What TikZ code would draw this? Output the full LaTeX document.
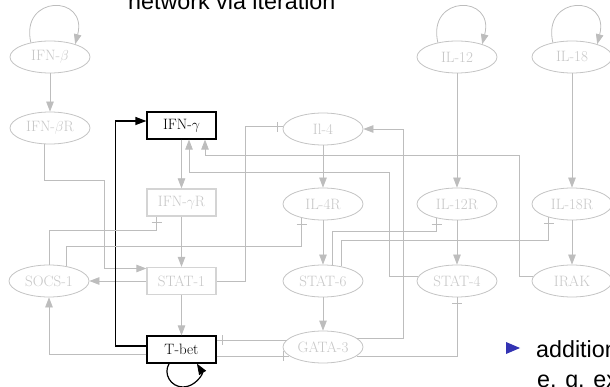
\documentclass[tikz,border=0pt]{standalone}
\usepackage{fontspec}
\newfontfamily\slidefont{Liberation Sans}
\usetikzlibrary{arrows.meta,shapes.geometric}

% inhibition tip: a bar set back from the end, with the line running through to the node
\pgfdeclarearrow{
  name = Tee,
  parameters = {\the\pgfarrowlength,\the\pgfarrowwidth},
  setup code = {
    \pgfarrowssettipend{0pt}
    \pgfarrowssetlineend{0pt}
    \pgfarrowssetbackend{-\pgfarrowlength}
    \pgfarrowssetvisualbackend{-\pgfarrowlength}
    \pgfarrowshullpoint{0pt}{.5\pgfarrowwidth}
    \pgfarrowshullpoint{0pt}{-.5\pgfarrowwidth}
    \pgfarrowshullpoint{-\pgfarrowlength}{.5\pgfarrowwidth}
    \pgfarrowshullpoint{-\pgfarrowlength}{-.5\pgfarrowwidth}
    \pgfarrowssavethe\pgfarrowlength
    \pgfarrowssavethe\pgfarrowwidth
  },
  drawing code = {
    \pgfsetdash{}{0pt}
    \pgfsetbuttcap
    \pgfpathmoveto{\pgfqpoint{-\pgfarrowlength}{.5\pgfarrowwidth}}
    \pgfpathlineto{\pgfqpoint{-\pgfarrowlength}{-.5\pgfarrowwidth}}
    \pgfusepathqstroke
  },
  defaults = {length=6pt, width=10pt}
}

\definecolor{edgegray}{gray}{0.74}
\definecolor{labelgray}{gray}{0.78}
\definecolor{rimgray}{gray}{0.77}
\definecolor{boxgray}{gray}{0.83}
\definecolor{bulletblue}{RGB}{51,51,179}

\tikzset{
  nodefont/.style={font=\fontsize{15}{18}\selectfont},
  el/.style={nodefont, ellipse, draw=rimgray, line width=0.8pt, fill=white,
    minimum width=80pt, minimum height=32pt, inner sep=0pt, text=labelgray},
  gbox/.style={nodefont, rectangle, draw=boxgray, line width=1.3pt, fill=white,
    minimum width=69pt, minimum height=27pt, inner sep=0pt, text=labelgray},
  kbox/.style={nodefont, rectangle, draw=black, line width=1.2pt, fill=white,
    minimum width=69pt, minimum height=27pt, inner sep=0pt, text=black},
  act/.style={draw=edgegray, line width=0.8pt, -{Triangle[length=10pt,width=7.5pt]}},
  inh/.style={draw=edgegray, line width=0.8pt, -{Tee[length=6pt,width=10pt]}},
  kact/.style={draw=black, line width=1.2pt, -{Triangle[length=11pt,width=8pt]}},
  slide/.style={font=\slidefont\fontsize{23.3}{28}\selectfont, anchor=base west, inner sep=0pt},
}

\begin{document}
\begin{tikzpicture}[x=1pt, y=-1pt]
\useasboundingbox (0,0) rectangle (610,387);
\clip (0,0) rectangle (610,387);

% slide text around the network
\node[slide] (ttl) at (128,9.5) {network via iteration};
\fill[bulletblue] (506,342) -- (506,354) -- (520,348) -- cycle;
\node[slide] (add) at (536,357) {addition};
\node[slide] (eg) at (537,387) {e. g. ex};

% nodes
\node[el]   (ifnb)  at (50,57)      {IFN-$\beta$};
\node[el]   (il12)  at (457,57)     {IL-12};
\node[el]   (il18)  at (572,57)     {IL-18};

\node[el]   (ifnbr) at (50,128)     {IFN-$\beta$R};
\node[kbox] (ifng)  at (181.5,125.5) {IFN-$\gamma$};
\node[el]   (il4)   at (323,129)    {Il-4};

\node[gbox] (ifngr) at (181.5,202.5) {IFN-$\gamma$R};
\node[el]   (il4r)  at (323,204)    {IL-4R};
\node[el]   (il12r) at (457,204)    {IL-12R};
\node[el]   (il18r) at (572,204)    {IL-18R};

\node[el]   (socs)  at (49,281)     {SOCS-1};
\node[gbox] (stat1) at (181.5,281)  {STAT-1};
\node[el]   (stat6) at (323,281)    {STAT-6};
\node[el]   (stat4) at (457,281)    {STAT-4};
\node[el]   (irak)  at (572,281)    {IRAK};

\node[kbox] (tbet)  at (181.5,349.5) {T-bet};
\node[el]   (gata)  at (323,347)    {GATA-3};

% straight activations
\draw[act] (ifnb) -- (ifnbr);
\draw[act] (ifng) -- (ifngr);
\draw[act] (ifngr) -- (stat1);
\draw[act] (stat1) -- (tbet);
\draw[act] (stat1) -- (socs);
\draw[act] (il4) -- (il4r);
\draw[act] (il4r) -- (stat6);
\draw[act] (stat6) -- (gata);
\draw[act] (il12) -- (il12r);
\draw[act] (il12r) -- (stat4);
\draw[act] (il18) -- (il18r);
\draw[act] (il18r) -- (irak);

% self-activation loops
\draw[act] (ifnb.143) .. controls +(-11,-48) and +(13,-50) .. (ifnb.27);
\draw[act] (il12.143) .. controls +(-11,-48) and +(13,-50) .. (il12.27);
\draw[act] (il18.143) .. controls +(-11,-48) and +(13,-50) .. (il18.27);
\draw[kact] ([xshift=-12.4pt]tbet.south) .. controls (162.9,373.7) and (170.7,387) .. (183,387)
            .. controls (195.3,387) and (203.1,373.7) .. ([xshift=15.4pt]tbet.south);

% routed activations
\draw[act] (ifnbr.252) -- ++(0,36) -| ([xshift=-42pt,yshift=12.5pt]stat1.west) -- ([yshift=12.5pt]stat1.west);
\draw[kact] ([yshift=3.5pt]tbet.west) -- ++(-31,0) |- ([yshift=4.5pt]ifng.west);
\draw[act] ([yshift=-4.5pt]tbet.west) -| (socs.south);
\draw[act] (gata.15) -- ++(47,0) |- (il4.east);
\draw[act] (stat4.174) -| (389,172) -| ([xshift=7.5pt]ifng.south);
\draw[act] (irak.174) -| (519,155) -| ([xshift=23.5pt]ifng.south);

% inhibitions
\draw[inh] (stat1.east) -- ++(28.5,0) |- (il4.177);
\draw[inh] (socs.north) -- ++(0,-34) -| ([xshift=-25pt]ifngr.south);
\draw[inh] (socs.40) -- ++(0,-19.5) -| (il4r.213);
\draw[inh] (gata.169) -- (gata.169 -| tbet.east);
\draw[inh] (gata.195 -| tbet.east) -- (gata.195);
\draw[inh] (gata.345) -| (stat4.south);
\draw[inh] (stat6.60) -- ++(0,-33.4) -| (il12r.215);
\draw[inh] (stat6.38) -- ++(0,-25.7) -| (il18r.210);
\end{tikzpicture}
\end{document}
